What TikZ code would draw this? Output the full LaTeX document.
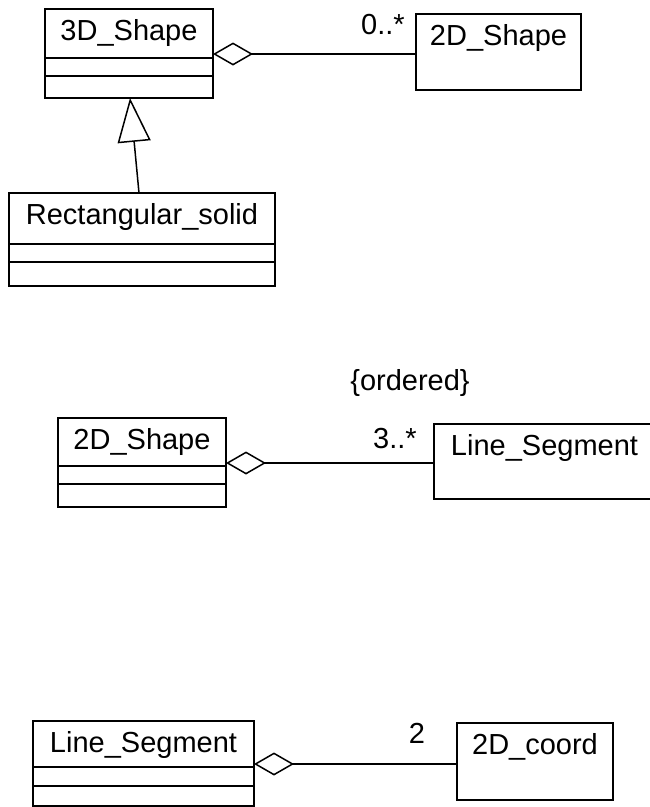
\documentclass[tikz,border=0pt]{standalone}
\usepackage{fontspec}
\setmainfont{Liberation Sans}
\usetikzlibrary{arrows.meta, positioning}

\begin{document}
\begin{tikzpicture}[
    x=1pt, y=-1pt,
    every node/.style={font=\fontsize{29}{33}\selectfont},
    classbox/.style={rectangle, draw, line width=1.5pt, anchor=north west, inner sep=0pt, outer sep=0pt, text height=31pt, text depth=#1},
    compart/.style={rectangle, draw, line width=1.5pt, inner sep=0pt, outer sep=0pt, minimum height=#1},
    aggr/.style={{Diamond[open, length=40pt, width=23pt]}-, line width=1.5pt},
    inherit/.style={-{Triangle[open, length=44pt, width=33pt]}, line width=1.5pt},
]
    \useasboundingbox (0,0) rectangle (650,807);

    \node[classbox=18pt, minimum width=168pt] (shape3d) at (45,9) {3D\_Shape};
    \node[compart=18pt, minimum width=168pt, below=0pt of shape3d] (shape3dA) {};
    \node[compart=22pt, minimum width=168pt, below=0pt of shape3dA] (shape3dB) {};
    \node[classbox=45pt, minimum width=165pt] (shape2d) at (416,14) {2D\_Shape};

    \node[classbox=20pt, minimum width=266pt] (rsolid) at (9,193) {Rectangular\_solid};
    \node[compart=18pt, minimum width=266pt, below=0pt of rsolid] (rsolidA) {};
    \node[compart=24pt, minimum width=266pt, below=0pt of rsolidA] (rsolidB) {};

    \node[classbox=17pt, minimum width=168pt] (poly) at (58,418) {2D\_Shape};
    \node[compart=18pt, minimum width=168pt, below=0pt of poly] (polyA) {};
    \node[compart=23pt, minimum width=168pt, below=0pt of polyA] (polyB) {};
    \node[classbox=44pt, minimum width=221pt] (seg) at (434,424) {Line\_Segment};

    \node[classbox=15pt, minimum width=221pt] (line) at (33,721) {Line\_Segment};
    \node[compart=19pt, minimum width=221pt, below=0pt of line] (lineA) {};
    \node[compart=20pt, minimum width=221pt, below=0pt of lineA] (lineB) {};
    \node[classbox=46pt, minimum width=156pt] (coord) at (457,723) {2D\_coord};

    \node (m1) at (383,25) {0..*};
    \node (ord) at (410,383) {\{ordered\}};
    \node (m2) at (395,439) {3..*};
    \node (m3) at (417,733) {2};

    \draw[aggr] ([yshift=4pt]shape3d.south east) -- ([yshift=4pt]shape3d.south east -| shape2d.west);
    \draw[inherit] ([xshift=-3pt]rsolid.north) -- ([xshift=1pt]shape3dB.south);
    \draw[aggr] ([yshift=3pt]poly.south east) -- ([yshift=3pt]poly.south east -| seg.west);
    \draw[aggr] ([yshift=3pt]line.south east) -- ([yshift=3pt]line.south east -| coord.west);
\end{tikzpicture}
\end{document}
